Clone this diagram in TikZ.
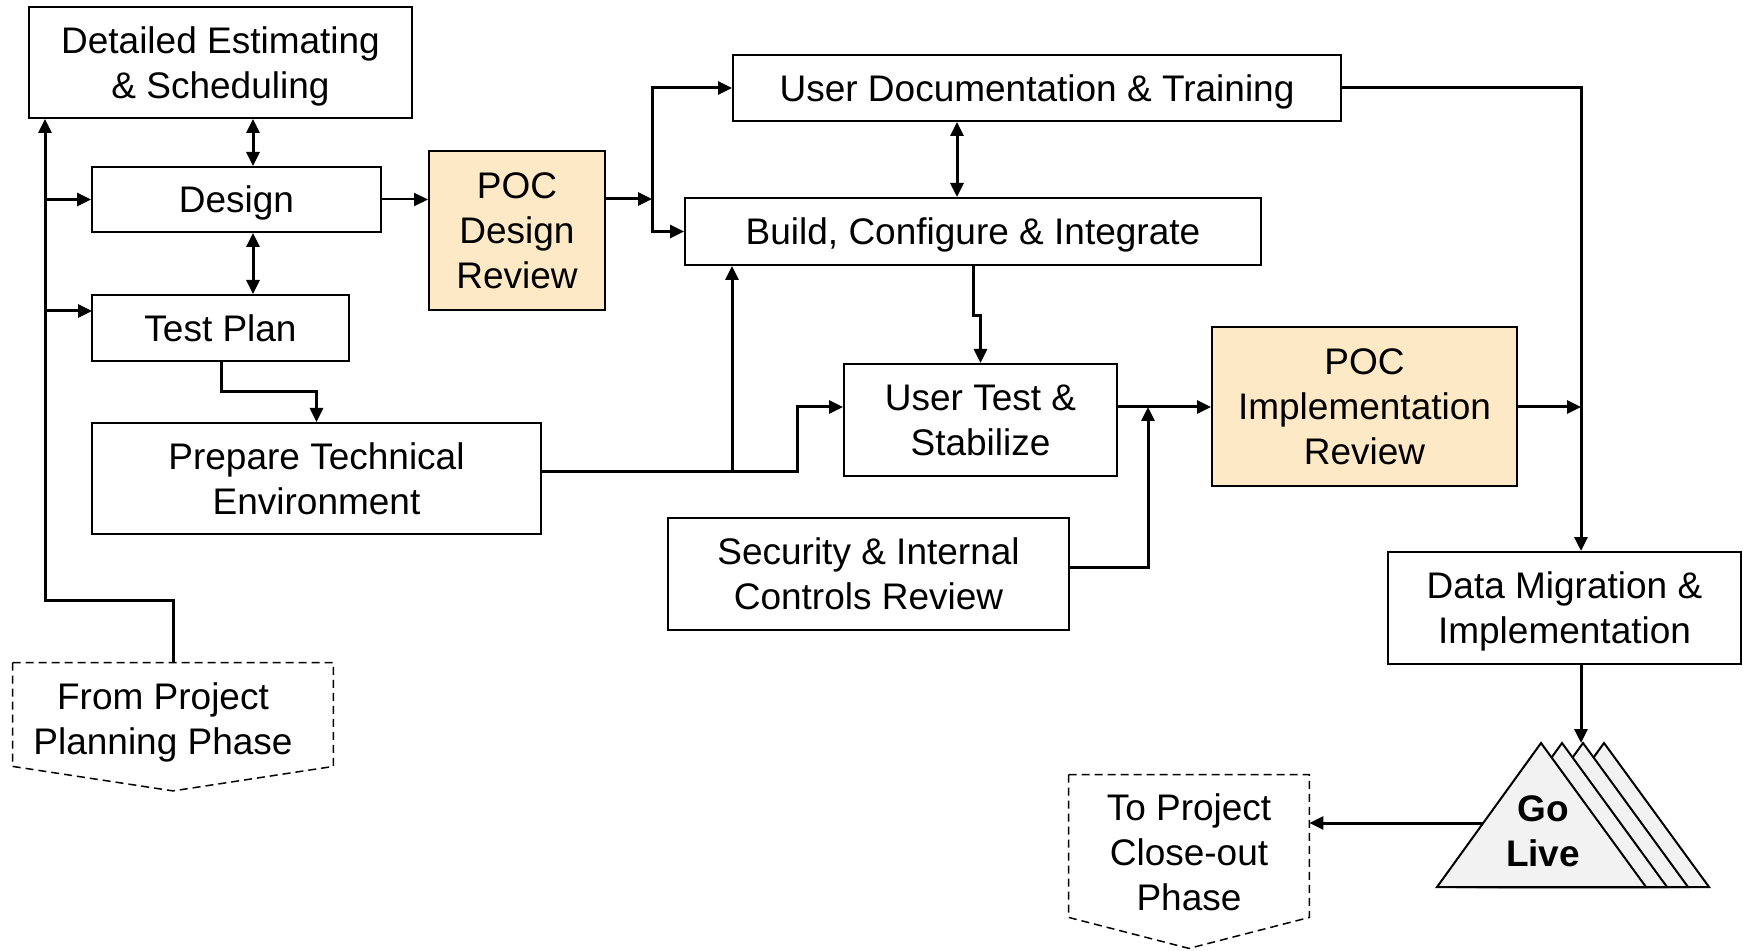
\documentclass[tikz,border=0pt]{standalone}
\usepackage{fontspec}
\setmainfont{Liberation Sans}
\usetikzlibrary{arrows.meta,calc}
\definecolor{pocfill}{HTML}{FDE9C6}
\definecolor{glfill}{HTML}{F2F2F2}
\tikzset{
  >={Triangle[length=7pt,width=6.5pt]},
  every node/.style={font=\fontsize{18.5pt}{22.5pt}\selectfont, align=center},
  sz/.style 2 args={minimum width=#1*0.5pt, minimum height=#2*0.5pt},
  box/.style={draw, line width=1pt, inner sep=2pt, text depth=0pt},
  pocbox/.style={box, fill=pocfill},
  phase/.style={inner sep=0pt},
  phaseline/.style={draw, line width=0.75pt, dash pattern=on 4pt off 2.5pt},
  conn/.style={draw, line width=1.5pt, ->},
  biconn/.style={draw, line width=1.5pt, <->},
  thinconn/.style={draw, line width=1pt, ->},
  tri/.style={draw, line width=1pt, fill=glfill, line join=miter},
}
\begin{document}
\begin{tikzpicture}[x=0.5pt, y=-0.5pt]
\useasboundingbox (0,0) rectangle (1743,951);

% nodes
\node[box, sz={383}{111}] (est) at (220.5,62.5) {Detailed Estimating\\\& Scheduling};
\node[box, sz={289}{65}] (design) at (236.5,199.5) {Design};
\node[box, sz={257}{66}] (testplan) at (220.5,328) {Test Plan};
\node[box, sz={449}{111}] (prep) at (316.5,478.5) {Prepare Technical\\Environment};
\node[pocbox, sz={176}{159}] (pocd) at (517,230.5) {POC\\Design\\Review};
\node[box, sz={608}{66}] (userdoc) at (1037,88) {User Documentation \& Training};
\node[box, sz={576}{67}] (build) at (973,231.5) {Build, Configure \& Integrate};
\node[box, sz={273}{112}] (usertest) at (980.5,420) {User Test \&\\Stabilize};
\node[pocbox, sz={305}{159}] (pocimpl) at (1364.5,406.5) {POC\\Implementation\\Review};
\node[box, sz={401}{112}] (security) at (868.5,574) {Security \& Internal\\Controls Review};
\node[box, sz={353}{112}] (datamig) at (1564.5,608) {Data Migration \&\\Implementation};

% phase shapes
\node[phase, sz={320}{103}] (from) at (173,714.5) {\rule{0pt}{21.3pt}\hspace*{-10pt}From Project\\\hspace*{-10pt}Planning Phase};
\path[phaseline] (from.north west) -- (from.north east) -- (from.south east) -- ($(from.south)+(0,24.5)$) -- (from.south west) -- cycle;
\node[phase, sz={240}{142}] (to) at (1189,846) {\rule{0pt}{20.1pt}To Project\\Close-out\\Phase};
\path[phaseline] (to.north west) -- (to.north east) -- (to.south east) -- ($(to.south)+(0,31)$) -- (to.south west) -- cycle;

% Go Live triangles
\foreach \i in {3,2,1,0} {
  \path[tri] ($(1541,743)+(21*\i,0)$) -- ($(1646,887)+(21*\i,0)$) -- ($(1437,887)+(21*\i,0)$) -- cycle;
}
\node[font=\bfseries\fontsize{18.5pt}{22.5pt}\selectfont] (golive) at (1543,831) {Go\\Live};

% coordinates
\coordinate (c1) at (45,600);
\coordinate (tpin) at (92,311);
\coordinate (dx) at (253,0);
\coordinate (s1) at (652,199);
\coordinate (ux) at (957,0);
\coordinate (tx) at (221,0);
\coordinate (p1) at (732,471);
\coordinate (p2) at (797,471);
\coordinate (mid) at (1148,407);
\coordinate (sy) at (0,567);
\coordinate (r1) at (1581,407);
\coordinate (apex3) at (1581,743);
\coordinate (gl) at (1483,823);

% connectors
\path[conn] (from.north) |- (c1) -- (est.south -| c1);
\path[conn] (c1 |- design.west) -- (design.west);
\path[conn] (c1 |- tpin) -- (tpin);
\path[biconn] (est.south -| dx) -- (design.north -| dx);
\path[biconn] (design.south -| dx) -- (testplan.north -| dx);
\path[thinconn] (design.east) -- (pocd.west |- design.east);
\path[conn] (pocd.east |- s1) -- (s1);
\path[conn] (s1) |- (userdoc.west);
\path[conn] (s1) |- (build.west);
\path[biconn] (userdoc.south -| ux) -- (build.north -| ux);
\path[conn] (build.south) -- ++(0,50) -| (usertest.north);
\path[conn] (testplan.south -| tx) -- ++(0,30) -| (prep.north);
\path[conn] (prep.east |- p1) -- (p2) |- (usertest.west |- mid);
\path[conn] (p1) -- (build.south -| p1);
\path[conn] (usertest.east |- mid) -- (pocimpl.west |- mid);
\path[conn] (security.east |- sy) -| (mid);
\path[conn] (pocimpl.east |- mid) -- (r1);
\path[conn] (userdoc.east) -| (datamig.north -| r1);
\path[conn] (datamig.south -| r1) -- (apex3);
\path[conn] (gl) -- (to.east |- gl);
\end{tikzpicture}
\end{document}
